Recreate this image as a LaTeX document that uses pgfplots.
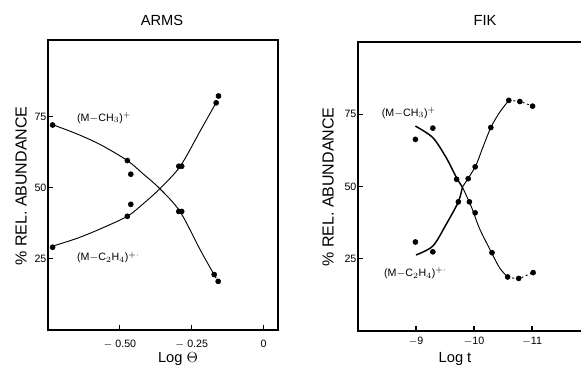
\documentclass[border=0pt]{standalone}
\usepackage{pgfplots}
\pgfplotsset{compat=1.18}
\usepackage{fontspec}
\setmainfont{Liberation Sans}
\setsansfont{Liberation Sans}
\begin{document}
\begin{tikzpicture}
\path[use as bounding box] (0,0) rectangle (435.75pt,285.75pt);
\pgfplotsset{
  every axis/.append style={
    scale only axis, axis line style={line width=0.8pt},
    tick style={black, line width=0.8pt}, major tick length=4pt,
    tick align=inside, xtick pos=bottom, ytick pos=left,
    ticklabel style={font=\fontsize{8}{9}\selectfont},
    yticklabel style={inner sep=1pt},
    /pgf/number format/assume math mode=true,
    clip=false,
  },
  dot/.style={only marks, mark=*, mark size=1.9pt, black},
  crv/.style={black, line width=0.7pt, smooth, no marks},
}
% ---------------- ARMS ----------------
\begin{axis}[at={(36pt,38.25pt)}, anchor=south west,
  width=172.5pt, height=217.5pt,
  xmin=-0.75, xmax=0.05, ymin=0, ymax=102,
  xtick={-0.5,-0.25,0}, xticklabels={$-$ 0.50,$-$ 0.25,0},
  ytick={25,50,75},
  xticklabel style={yshift=-4pt},
]
\addplot[crv] coordinates {(-0.734,72.2) (-0.65,69) (-0.566,65.1) (-0.474,59.6) (-0.42,55) (-0.361,49.7) (-0.291,41.7) (-0.219,27.9) (-0.165,18.2)};
\addplot[crv] coordinates {(-0.734,29.5) (-0.65,32.2) (-0.567,35.6) (-0.474,40) (-0.42,44.3) (-0.361,49.7) (-0.29,57.6) (-0.219,70.3) (-0.165,80)};
\addplot[dot] coordinates {(-0.734,72.1) (-0.474,59.6) (-0.462,54.8) (-0.295,41.7) (-0.285,41.7) (-0.172,19.5) (-0.158,17.1)};
\addplot[dot] coordinates {(-0.734,29.1) (-0.474,40.0) (-0.462,44.2) (-0.295,57.6) (-0.285,57.6) (-0.165,79.9) (-0.157,82.3)};
\node[anchor=west, font=\fontsize{8}{9}\selectfont] at (axis cs:-0.665,74.5) {(M$-$CH$_3$)$^+$};
\node[anchor=west, font=\fontsize{8}{9}\selectfont] at (axis cs:-0.665,25.5) {(M$-$C$_2$H$_4$)$^{+\cdot}$};
\end{axis}
% ---------------- FIK ----------------
\begin{axis}[at={(268.5pt,37.5pt)}, anchor=south west,
  width=191.4pt, height=216.75pt,
  xmin=8, xmax=12.4, ymin=0, ymax=100,
  xtick={9,10,11}, xticklabels={$-$9,$-$10,$-$11},
  ytick={25,50,75},
  xticklabel style={yshift=-1pt},
]
\addplot[crv, line width=1.1pt] coordinates {(8.99,70.9) (9.29,66.9) (9.52,60.0) (9.70,53.0) (9.80,49.8)};
\addplot[crv] coordinates {(9.80,49.8) (9.95,43.2) (10.09,35.7) (10.26,28.8) (10.44,21.9) (10.58,18.7)};
\addplot[crv, dash pattern=on 1.5pt off 2pt] coordinates {(10.58,18.7) (10.77,18.2) (11.01,20.2)};
\addplot[crv, line width=1.1pt] coordinates {(9.0,26.3) (9.29,29.4) (9.52,36.9) (9.73,44.7) (9.80,49.8)};
\addplot[crv] coordinates {(9.80,49.8) (10.02,56.8) (10.15,63.4) (10.29,70.4) (10.44,75.6) (10.60,79.8)};
\addplot[crv, dash pattern=on 1.5pt off 2pt] coordinates {(10.60,79.8) (10.79,79.4) (11.01,77.8)};
\addplot[dot] coordinates {(8.99,66.3) (9.29,70.2) (9.70,52.5) (9.92,44.7) (10.02,40.9) (10.31,27.1) (10.58,18.7) (10.77,18.2) (11.02,20.2)};
\addplot[dot] coordinates {(8.99,30.8) (9.29,27.4) (9.73,44.7) (9.90,52.7) (10.02,56.8) (10.29,70.4) (10.60,79.8) (10.79,79.4) (11.01,77.8)};
\node[anchor=west, font=\fontsize{8}{9}\selectfont] at (axis cs:8.33,75.4) {(M$-$CH$_3$)$^+$};
\node[anchor=west, font=\fontsize{8}{9}\selectfont] at (axis cs:8.37,20) {(M$-$C$_2$H$_4$)$^{+\cdot}$};
\end{axis}
% ---------------- texts ----------------
\begin{scope}[x=0.75pt,y=0.75pt]
\node[font=\fontsize{11}{13}\selectfont] at (162,361) {ARMS};
\node[font=\fontsize{11}{13}\selectfont] at (485,361) {FIK};
\node[font=\fontsize{11}{13}\selectfont] at (178,22) {Log $\Theta$};
\node[font=\fontsize{11}{13}\selectfont] at (455,22) {Log t};
\node[rotate=90, font=\fontsize{12}{14}\selectfont] at (21,195) {\% REL. ABUNDANCE};
\node[rotate=90, font=\fontsize{12}{14}\selectfont] at (328,194) {\% REL. ABUNDANCE};
\end{scope}
\end{tikzpicture}
\end{document}
